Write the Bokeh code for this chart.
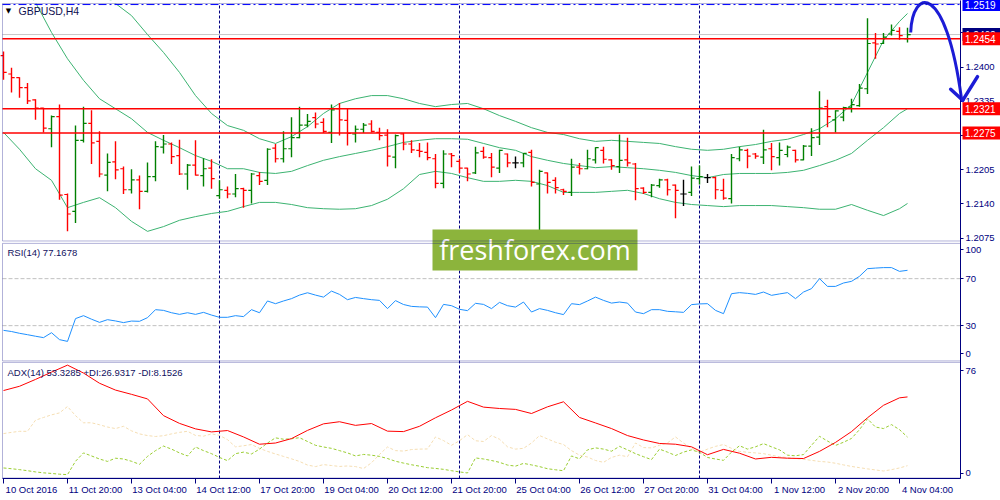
import numpy as np
from bokeh.plotting import figure
from bokeh.models import (ColumnDataSource, Range1d, FixedTicker, PrintfTickFormatter,
                          Span, Label, BoxAnnotation, LinearAxis)
from bokeh.embed import file_html
from bokeh.resources import INLINE
from bokeh.core.properties import value

# ---------------- data ----------------
symbol = "GBPUSD,H4"
date_labels = ["10 Oct 2016", "11 Oct 20:00", "13 Oct 04:00", "14 Oct 12:00", "17 Oct 20:00",
               "19 Oct 04:00", "20 Oct 12:00", "21 Oct 20:00", "25 Oct 04:00", "26 Oct 12:00",
               "27 Oct 20:00", "31 Oct 04:00", "1 Nov 12:00", "2 Nov 20:00", "4 Nov 04:00"]
date_label_bars = [0, 8, 16, 24, 32, 40, 48, 56, 64, 72, 80, 88, 96, 104, 112]
separator_bars = [27, 57, 87]

open_ = [1.2422, 1.2387, 1.2380, 1.2361, 1.2338, 1.2322, 1.2283, 1.2306, 1.2158, 1.2126,
         1.2261, 1.2293, 1.2259, 1.2195, 1.2220, 1.2207, 1.2167, 1.2186, 1.2164, 1.2192,
         1.2248, 1.2254, 1.2232, 1.2197, 1.2214, 1.2194, 1.2208, 1.2156, 1.2166, 1.2159,
         1.2169, 1.2166, 1.2194, 1.2185, 1.2246, 1.2226, 1.2245, 1.2266, 1.2290, 1.2304,
         1.2295, 1.2276, 1.2321, 1.2299, 1.2273, 1.2282, 1.2292, 1.2276, 1.2271, 1.2229,
         1.2273, 1.2254, 1.2242, 1.2238, 1.2226, 1.2179, 1.2235, 1.2221, 1.2208, 1.2199,
         1.2240, 1.2228, 1.2208, 1.2235, 1.2218, 1.2218, 1.2238, 1.2178, 1.2199, 1.2185,
         1.2167, 1.2162, 1.2210, 1.2207, 1.2224, 1.2242, 1.2224, 1.2211, 1.2224, 1.2216,
         1.2170, 1.2162, 1.2175, 1.2186, 1.2176, 1.2159, 1.2162, 1.2188, 1.2190, 1.2190,
         1.2166, 1.2150, 1.2226, 1.2242, 1.2235, 1.2229, 1.2245, 1.2228, 1.2234, 1.2242,
         1.2224, 1.2250, 1.2267, 1.2325, 1.2300, 1.2305, 1.2324, 1.2327, 1.2359, 1.2446,
         1.2445, 1.2463, 1.2468, 1.2454]
high = [1.2430, 1.2399, 1.2381, 1.2370, 1.2339, 1.2323, 1.2308, 1.2329, 1.2160, 1.2289,
        1.2325, 1.2318, 1.2278, 1.2236, 1.2259, 1.2211, 1.2206, 1.2194, 1.2219, 1.2259,
        1.2271, 1.2257, 1.2262, 1.2216, 1.2261, 1.2227, 1.2225, 1.2185, 1.2173, 1.2197,
        1.2171, 1.2199, 1.2201, 1.2246, 1.2254, 1.2278, 1.2305, 1.2325, 1.2311, 1.2314,
        1.2303, 1.2329, 1.2332, 1.2321, 1.2289, 1.2294, 1.2299, 1.2285, 1.2282, 1.2272,
        1.2275, 1.2261, 1.2256, 1.2257, 1.2235, 1.2242, 1.2237, 1.2226, 1.2209, 1.2249,
        1.2249, 1.2237, 1.2243, 1.2236, 1.2230, 1.2237, 1.2243, 1.2205, 1.2200, 1.2191,
        1.2169, 1.2226, 1.2218, 1.2243, 1.2248, 1.2249, 1.2225, 1.2272, 1.2266, 1.2218,
        1.2172, 1.2178, 1.2188, 1.2188, 1.2177, 1.2186, 1.2211, 1.2213, 1.2197, 1.2192,
        1.2188, 1.2235, 1.2249, 1.2245, 1.2237, 1.2281, 1.2256, 1.2257, 1.2251, 1.2243,
        1.2252, 1.2284, 1.2354, 1.2338, 1.2318, 1.2325, 1.2340, 1.2368, 1.2493, 1.2465,
        1.2465, 1.2481, 1.2476, 1.2475]
low = [1.2376, 1.2352, 1.2342, 1.2330, 1.2300, 1.2276, 1.2248, 1.2148, 1.2088, 1.2104,
       1.2257, 1.2216, 1.2191, 1.2164, 1.2187, 1.2159, 1.2160, 1.2130, 1.2162, 1.2183,
       1.2236, 1.2216, 1.2195, 1.2167, 1.2194, 1.2173, 1.2169, 1.2150, 1.2151, 1.2153,
       1.2133, 1.2141, 1.2176, 1.2176, 1.2219, 1.2219, 1.2229, 1.2265, 1.2286, 1.2284,
       1.2275, 1.2256, 1.2270, 1.2251, 1.2257, 1.2275, 1.2276, 1.2261, 1.2211, 1.2208,
       1.2242, 1.2237, 1.2229, 1.2223, 1.2170, 1.2170, 1.2210, 1.2199, 1.2183, 1.2197,
       1.2226, 1.2191, 1.2199, 1.2210, 1.2208, 1.2210, 1.2173, 1.2090, 1.2160, 1.2160,
       1.2157, 1.2155, 1.2196, 1.2206, 1.2217, 1.2217, 1.2205, 1.2199, 1.2211, 1.2147,
       1.2159, 1.2153, 1.2171, 1.2156, 1.2113, 1.2136, 1.2155, 1.2177, 1.2180, 1.2149,
       1.2148, 1.2141, 1.2221, 1.2208, 1.2226, 1.2216, 1.2204, 1.2213, 1.2229, 1.2219,
       1.2223, 1.2231, 1.2252, 1.2286, 1.2276, 1.2297, 1.2314, 1.2325, 1.2349, 1.2416,
       1.2444, 1.2460, 1.2452, 1.2447]
close = [1.2390, 1.2380, 1.2361, 1.2336, 1.2322, 1.2284, 1.2306, 1.2157, 1.2121, 1.2261,
         1.2293, 1.2256, 1.2197, 1.2219, 1.2205, 1.2167, 1.2186, 1.2164, 1.2192, 1.2249,
         1.2254, 1.2230, 1.2197, 1.2214, 1.2195, 1.2207, 1.2188, 1.2167, 1.2159, 1.2169,
         1.2166, 1.2197, 1.2183, 1.2244, 1.2226, 1.2245, 1.2266, 1.2290, 1.2297, 1.2292,
         1.2278, 1.2319, 1.2300, 1.2274, 1.2282, 1.2290, 1.2278, 1.2270, 1.2231, 1.2270,
         1.2254, 1.2243, 1.2240, 1.2228, 1.2179, 1.2235, 1.2232, 1.2208, 1.2197, 1.2237,
         1.2229, 1.2210, 1.2242, 1.2218, 1.2218, 1.2236, 1.2181, 1.2202, 1.2181, 1.2171,
         1.2164, 1.2210, 1.2207, 1.2226, 1.2247, 1.2225, 1.2213, 1.2223, 1.2218, 1.2169,
         1.2162, 1.2176, 1.2186, 1.2167, 1.2166, 1.2159, 1.2189, 1.2192, 1.2190, 1.2167,
         1.2151, 1.2228, 1.2243, 1.2231, 1.2231, 1.2243, 1.2230, 1.2242, 1.2248, 1.2224,
         1.2250, 1.2266, 1.2322, 1.2306, 1.2317, 1.2323, 1.2329, 1.2360, 1.2445, 1.2444,
         1.2457, 1.2470, 1.2460, 1.2462]

bb_bars = list(range(0, 113, 2)) + [113]
bb_upper = [1.2669, 1.2644, 1.2622, 1.2599, 1.2578, 1.2559, 1.2540, 1.2521, 1.2498, 1.2462,
            1.2428, 1.2390, 1.2346, 1.2312, 1.2289, 1.2280, 1.2264, 1.2255, 1.2268, 1.2287,
            1.2312, 1.2331, 1.2340, 1.2346, 1.2346, 1.2340, 1.2331, 1.2325, 1.2329, 1.2331,
            1.2321, 1.2308, 1.2297, 1.2285, 1.2276, 1.2272, 1.2264, 1.2259, 1.2261, 1.2259,
            1.2257, 1.2255, 1.2249, 1.2244, 1.2242, 1.2244, 1.2249, 1.2253, 1.2259, 1.2263,
            1.2272, 1.2283, 1.2302, 1.2329, 1.2390, 1.2451, 1.2487, 1.2502]
bb_mid = [1.2584, 1.2555, 1.2523, 1.2466, 1.2416, 1.2375, 1.2340, 1.2321, 1.2302, 1.2276,
          1.2261, 1.2247, 1.2232, 1.2221, 1.2207, 1.2207, 1.2200, 1.2198, 1.2202, 1.2213,
          1.2223, 1.2230, 1.2236, 1.2242, 1.2249, 1.2257, 1.2261, 1.2264, 1.2264, 1.2263,
          1.2255, 1.2247, 1.2242, 1.2230, 1.2223, 1.2217, 1.2213, 1.2209, 1.2211, 1.2209,
          1.2207, 1.2204, 1.2200, 1.2194, 1.2190, 1.2196, 1.2198, 1.2198, 1.2198, 1.2200,
          1.2204, 1.2213, 1.2223, 1.2236, 1.2261, 1.2285, 1.2312, 1.2321]
bb_lower = [1.2276, 1.2244, 1.2207, 1.2185, 1.2133, 1.2143, 1.2152, 1.2133, 1.2107, 1.2088,
            1.2097, 1.2109, 1.2116, 1.2122, 1.2126, 1.2135, 1.2143, 1.2143, 1.2139, 1.2133,
            1.2131, 1.2130, 1.2131, 1.2137, 1.2149, 1.2169, 1.2196, 1.2202, 1.2198, 1.2190,
            1.2183, 1.2183, 1.2185, 1.2183, 1.2175, 1.2162, 1.2162, 1.2162, 1.2164, 1.2166,
            1.2160, 1.2150, 1.2143, 1.2139, 1.2137, 1.2135, 1.2137, 1.2137, 1.2137, 1.2135,
            1.2133, 1.2130, 1.2130, 1.2139, 1.2128, 1.2118, 1.2131, 1.2141]

rsi = [26, 25, 23.5, 22.3, 21, 19.8, 24, 18.1, 16.6, 36,
       38.5, 35.5, 32.8, 35.1, 34, 32.6, 33.9, 33.7, 36.8, 43.6,
       43, 41, 39.6, 41, 39.6, 41.3, 39, 37.1, 37.1, 38.5,
       37.7, 43.6, 41, 51, 48.7, 51, 53, 56, 58, 56,
       54.3, 59.4, 56.6, 52.1, 54, 53, 52.1, 51.5, 44.5, 51.3,
       48, 46.4, 46, 45.8, 36.8, 48.1, 47, 43.9, 42.8, 49,
       48.1, 44.5, 49.8, 47, 45.8, 50.1, 41.6, 44.5, 43, 41,
       39.4, 48.7, 47.9, 51, 54.3, 51.5, 49.2, 50.1, 49.2, 41.6,
       40.2, 43.6, 43.6, 42.2, 41.8, 41.3, 47.9, 48.5, 48.7, 43,
       40.2, 57.2, 58.1, 57.5, 56.6, 58.6, 55.8, 57, 58.1, 53,
       58.6, 61.5, 70, 63.4, 63.4, 66.3, 67.7, 72, 78.5, 79,
       79.4, 79.4, 76.2, 77.1]
rsi_levels = [30, 70]

adx_bars = list(range(0, 113, 2)) + [113]
adx = [57.5, 60.3, 64.8, 69.6, 74.2, 69.0, 62.3, 57.8, 55.0, 52.0,
       41.0, 35.9, 32.3, 30.3, 31.2, 27.0, 22.2, 23.0, 25.9, 31.3,
       35.6, 37.0, 34.6, 35.8, 30.8, 30.5, 34.0, 39.6, 44.7, 50.4,
       46.6, 45.7, 45.1, 42.4, 46.8, 50.1, 39.8, 36.2, 32.5, 27.9,
       25.0, 22.7, 22.2, 20.5, 15.3, 18.8, 16.3, 12.5, 13.6, 13.0,
       12.8, 17.5, 23.4, 30.5, 39.6, 47.8, 52.7, 53.3]
plus_di = [6.6, 6.1, 5.5, 4.8, 4.0, 3.4, 3.0, 2.5, 2.2, 11,
           16.5, 14.5, 12.5, 10.9, 13, 12.5, 11, 9, 14.2, 18,
           21, 19, 16.5, 14.5, 20.4, 18, 16, 13.5, 11.4, 16,
           17, 15.8, 19, 23, 26.4, 25.5, 25.8, 26.5, 24, 21.5,
           20.4, 19.5, 18, 16.5, 14.5, 15.5, 15, 14.2, 12.8, 11,
           9.8, 8.7, 7.8, 6.8, 6.3, 5.7, 4.8, 4, 3.3, 13.2,
           12.5, 11.5, 10.3, 8.5, 7.8, 9.6, 8.6, 7.5, 6.1, 5.4,
           4.8, 14.5, 12.6, 18.5, 19.8, 19, 17.6, 20.8, 18.5, 16,
           14, 12.1, 19, 17, 14.8, 17, 18.5, 16.9, 13.5, 12.5,
           11.6, 17, 21.2, 19, 20.5, 22.6, 20.5, 18.5, 15, 14.6,
           15.4, 21.5, 27.4, 24.3, 21.4, 23.5, 26, 31.8, 38.9, 33.5,
           32.5, 35.1, 31.8, 26.9]
minus_di = [29.2, 30, 30.7, 30.7, 38, 39.8, 41.5, 42.8, 47, 41,
            36.3, 36.3, 35, 33.5, 32.5, 34, 31, 29, 27.9, 27.3,
            27.8, 29, 30, 30.7, 28, 27.5, 29, 28, 25.2, 20.5,
            21.2, 22, 19.5, 17.5, 15.8, 14.2, 12.6, 10.9, 8.5, 7.5,
            8.8, 8.2, 7.6, 7.9, 7.5, 6.2, 10, 15.5, 20.4, 18,
            17.7, 18.7, 19, 19.1, 27, 24.6, 21.5, 24.5, 28.5, 24.5,
            24, 27.9, 25.5, 20.5, 19, 19.5, 23, 27.9, 25.7, 23.5,
            22, 18, 15, 13.8, 11.5, 10.3, 13.5, 15, 14, 23,
            20, 19.8, 21.5, 23.1, 27, 23, 19.5, 16.9, 19, 20.8,
            22, 19.5, 17.5, 16.9, 16.5, 16, 15, 14, 13.4, 12.8,
            12.3, 11.6, 10.9, 10.5, 9.7, 8.6, 7.6, 6.8, 6, 5.3,
            4.6, 5.5, 6.6, 8.1]

levels_red = [1.2454, 1.2321, 1.2275]
level_blue = 1.2519
bid_price = 1.2462
price_ticks = [1.2075, 1.2140, 1.2205, 1.2270, 1.2335, 1.2400, 1.2465]
rsi_label = "RSI(14) 77.1678"
adx_label = "ADX(14) 53.3285 +DI:26.9317 -DI:8.1526"
adx_max_label = 76
watermark = "freshforex.com"

# hand-drawn arrow (bar position, price)
arrow_curve = dict(x0=113.4, y0=1.2466, cx0=113.6, cy0=1.2549,
                   cx1=117.75, cy1=1.2565, x1=119.75, y1=1.2340)
arrow_head_x0 = [118.4, 119.9]
arrow_head_y0 = [1.2358, 1.2337]
arrow_head_x1 = [119.9, 121.75]
arrow_head_y1 = [1.2337, 1.2382]

# ---------------- layout / style ----------------
NAVY = "#000080"
FONT = "Liberation Sans"
FS = "9.5px"
BULL, BEAR, DOJI = "#008000", "#ff0000", "#000000"
BAND = "#3cb371"
WM_GREEN = "#8cb43c"
ARROW_C = "#1c1cd6"

W, H, HB = 1000, 478, 22
X0, XE = -0.375, 124.625                # canvas x 0 .. 1000 in bar units
PANE_L, X1 = -0.125, 119.625            # pane left/right edges (x=2, x=960)
PX_BAR = W / (XE - X0)

# price scale (default y range): y=0 px at top of frame
P_FHI = 1.25267
PPX = 5262.0
P_FLO = P_FHI - H / PPX
P_TOP, P_BOT = 1.25210, 1.20697          # price pane border values
def py(px):
    return P_FHI - px / PPX

# RSI scale: 100 at y=242.9, 0 at y=360.4
RPX = (360.4 - 242.9) / 100.0
R_HI = 100 + 242.9 / RPX
R_LO = R_HI - H / RPX
def ry(px):
    return R_HI - px / RPX

# ADX scale: 76 at y=361.9, 0 at y=477.5
APX = (477.5 - 361.9) / adx_max_label
A_HI = adx_max_label + 361.9 / APX
A_LO = A_HI - H / APX
def ay(px):
    return A_HI - px / APX

def bx(px):
    return X0 + px / PX_BAR


p = figure(frame_width=W, frame_height=H, x_range=Range1d(X0, XE),
           y_range=Range1d(P_FLO, P_FHI), output_backend="svg", toolbar_location=None,
           x_axis_location="below", y_axis_location="right",
           min_border_left=0, min_border_right=0, min_border_top=0, min_border_bottom=HB,
           background_fill_color="white", border_fill_color="white", outline_line_color=None)
p.extra_y_ranges = {"rsi": Range1d(R_LO, R_HI), "adx": Range1d(A_LO, A_HI)}
p.grid.visible = False


def style_axis(ax):
    ax.fixed_location = X1
    ax.axis_line_color = NAVY
    ax.major_tick_line_color = NAVY
    ax.major_tick_out = 3
    ax.major_tick_in = 0
    ax.minor_tick_line_color = None
    ax.major_label_text_color = NAVY
    ax.major_label_text_font = FONT
    ax.major_label_text_font_size = FS
    ax.major_label_standoff = 2


# axes
pax = p.yaxis[0]
style_axis(pax)
pax.ticker = FixedTicker(ticks=price_ticks)
pax.formatter = PrintfTickFormatter(format="%.4f")

r0, r100 = ry(353.3), ry(249.3)
rax = LinearAxis(y_range_name="rsi", ticker=FixedTicker(ticks=[r0, 30, 70, r100]),
                 major_label_overrides={r0: "0", 30: "30", 70: "70", r100: "100"})
style_axis(rax)
p.add_layout(rax, "right")

a0, a76 = ay(472.7), ay(370)
aax = LinearAxis(y_range_name="adx", ticker=FixedTicker(ticks=[a0, a76]),
                 major_label_overrides={a0: "0", a76: str(adx_max_label)})
style_axis(aax)
p.add_layout(aax, "right")

SHIFT = 3.5
xa = p.xaxis[0]
xa.ticker = FixedTicker(ticks=[b + SHIFT for b in date_label_bars], minor_ticks=date_label_bars)
xa.major_label_overrides = {b + SHIFT: lab for b, lab in zip(date_label_bars, date_labels)}
xa.bounds = (PANE_L, X1)
xa.major_tick_line_color = None
xa.major_tick_out = 0
xa.major_tick_in = 0
xa.minor_tick_line_color = NAVY
xa.minor_tick_out = 5
xa.minor_tick_in = 0
xa.axis_line_color = NAVY
xa.major_label_standoff = 0
xa.major_label_text_color = NAVY
xa.major_label_text_font = FONT
xa.major_label_text_font_size = FS

# period separators
for b in separator_bars:
    p.add_layout(Span(location=b, dimension="height", line_color=NAVY,
                      line_dash="3 2", line_width=1, level="underlay"))

# ---------------- price pane ----------------
p.segment(x0=[PANE_L], y0=[bid_price], x1=[X1], y1=[bid_price], line_color="#c8c8c8",
          line_width=1)

for band in (bb_upper, bb_mid, bb_lower):
    p.line(bb_bars, band, line_color=BAND, line_width=1)

bars = np.arange(len(open_))
o = np.array(open_); c = np.array(close)
colors = np.where(c > o, BULL, np.where(c < o, BEAR, DOJI))
src = ColumnDataSource(dict(x=bars, xl=bars - 0.4, xr=bars + 0.4, o=o, h=high, l=low, c=c,
                            color=colors))
p.segment(x0="x", y0="l", x1="x", y1="h", line_color="color", line_width=1.4, source=src)
p.segment(x0="xl", y0="o", x1="x", y1="o", line_color="color", line_width=1.2, source=src)
p.segment(x0="x", y0="c", x1="xr", y1="c", line_color="color", line_width=1.2, source=src)

n_red = len(levels_red)
p.segment(x0=[PANE_L] * n_red, y0=levels_red, x1=[X1] * n_red, y1=levels_red,
          line_color="#ff0000", line_width=1.4)
p.segment(x0=[PANE_L], y0=[level_blue], x1=[X1], y1=[level_blue], line_color="#0000ff",
          line_width=1, line_dash="8 3 2 3")

# mask the strip above the price pane border (pane starts at y=3)
p.quad(left=[X0], right=[XE], bottom=[P_TOP], top=[P_FHI + 0.01], fill_color="white",
       line_color=None)

# ---------------- RSI pane ----------------
p.segment(x0=[PANE_L] * 2, y0=rsi_levels, x1=[X1] * 2, y1=rsi_levels, y_range_name="rsi",
          line_color="#c0c0c0", line_dash="4 2", line_width=1)
p.line(bars, rsi, y_range_name="rsi", line_color="#1e90ff", line_width=1)

# ---------------- ADX pane ----------------
p.line(bars, minus_di, y_range_name="adx", line_color="#f5deb3", line_width=1, line_dash="3 2")
p.line(bars, plus_di, y_range_name="adx", line_color="#9acd32", line_width=1, line_dash="3 2")
p.line(adx_bars, adx, y_range_name="adx", line_color="#ff0000", line_width=1)

# ---------------- watermark ----------------
wm_l, wm_r = bx(432), bx(637)
p.quad(left=[wm_l], right=[wm_r], bottom=[py(270)], top=[py(229)],
       fill_color=WM_GREEN, line_color=None, level="annotation")
p.text(x=[(wm_l + wm_r) / 2], y=[py(249)], text=[watermark], text_color="white",
       text_font=value("Open Sans"), text_font_size="27px", text_align="center",
       text_baseline="middle", level="annotation")

# ---------------- pane borders ----------------
p.add_layout(BoxAnnotation(left=PANE_L, right=X1, bottom=P_BOT, top=P_TOP, fill_alpha=0,
                           line_color=NAVY, line_width=1, level="overlay"))
p.add_layout(BoxAnnotation(left=PANE_L, right=X1, bottom=0, top=100, y_range_name="rsi",
                           fill_alpha=0, line_color=NAVY, line_width=1, level="overlay"))
p.add_layout(BoxAnnotation(left=PANE_L, right=X1, bottom=0, top=adx_max_label,
                           y_range_name="adx", fill_alpha=0, line_color=NAVY, line_width=1,
                           level="overlay"))

# ---------------- hand-drawn arrow ----------------
p.bezier(x0=[arrow_curve["x0"]], y0=[arrow_curve["y0"]], x1=[arrow_curve["x1"]],
         y1=[arrow_curve["y1"]], cx0=[arrow_curve["cx0"]], cy0=[arrow_curve["cy0"]],
         cx1=[arrow_curve["cx1"]], cy1=[arrow_curve["cy1"]],
         line_color=ARROW_C, line_width=3, level="overlay")
p.segment(x0=arrow_head_x0, y0=arrow_head_y0, x1=arrow_head_x1, y1=arrow_head_y1,
          line_color=ARROW_C, line_width=3.5, line_cap="round", level="overlay")

# ---------------- price tags on the axis ----------------
half_h = 6.5 / PPX
tag_groups = [([bid_price], [NAVY]),
              (levels_red + [level_blue], ["#ff0000"] * n_red + ["#0000ff"])]
for vals, cols in tag_groups:
    p.quad(left=[bx(962)] * len(vals), right=[XE] * len(vals),
           bottom=[v - half_h for v in vals], top=[v + half_h for v in vals],
           fill_color=cols, line_color=None, level="overlay")
    p.text(x=[bx(964.5)] * len(vals), y=vals, text=[f"{v:.4f}" for v in vals],
           text_color="white", text_font=value(FONT), text_font_size="10px",
           text_align="left", text_baseline="middle", level="overlay")

# ---------------- pane titles ----------------
p.add_layout(Label(x=bx(8), y=py(10.5), text="\u25bc", text_color="black",
                   text_font="DejaVu Sans", text_font_size="7px", text_align="center",
                   text_baseline="middle"))
p.add_layout(Label(x=bx(18), y=py(10.7), text=symbol, text_color="#101050",
                   text_font=FONT, text_font_size="10.5px", text_align="left",
                   text_baseline="middle"))
p.add_layout(Label(x=bx(7), y=ry(252), y_range_name="rsi", text=rsi_label,
                   text_color="#101060", text_font=FONT, text_font_size=FS,
                   text_align="left", text_baseline="middle"))
p.add_layout(Label(x=bx(7), y=ay(372), y_range_name="adx", text=adx_label,
                   text_color="#101060", text_font=FONT, text_font_size=FS,
                   text_align="left", text_baseline="middle"))

open("out.html", "w").write(file_html(p, INLINE))
